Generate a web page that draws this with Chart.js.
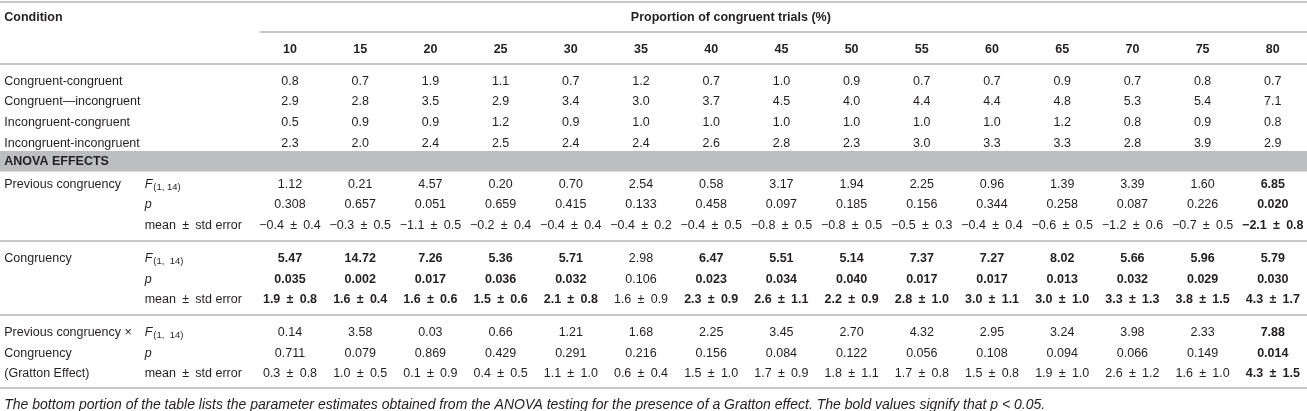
<!DOCTYPE html>
<html lang="en">
<head>
    <meta charset="UTF-8">
    <title>Gratton effect - ANOVA table</title>
    <script src="https://cdn.jsdelivr.net/npm/chart.js"></script>
    <style>
        html, body {
            margin: 0;
            padding: 0;
            background: #ffffff;
        }

        .table-wrap {
            width: 1307px;
            height: 411px;
            position: relative;
        }
    </style>
</head>
<body>
    <div class="table-wrap">
        <canvas id="tableChart"></canvas>
    </div>

    <script>
        // Column headers: proportion of congruent trials (%)
        const proportions = [10, 15, 20, 25, 30, 35, 40, 45, 50, 55, 60, 65, 70, 75, 80];

        // Top block: condition values
        const conditionNames = ['Congruent-congruent', 'Congruent\u2014incongruent', 'Incongruent-congruent', 'Incongruent-incongruent'];
        const congCong     = [0.8, 0.7, 1.9, 1.1, 0.7, 1.2, 0.7, 1.0, 0.9, 0.7, 0.7, 0.9, 0.7, 0.8, 0.7];
        const congIncong   = [2.9, 2.8, 3.5, 2.9, 3.4, 3.0, 3.7, 4.5, 4.0, 4.4, 4.4, 4.8, 5.3, 5.4, 7.1];
        const incongCong   = [0.5, 0.9, 0.9, 1.2, 0.9, 1.0, 1.0, 1.0, 1.0, 1.0, 1.0, 1.2, 0.8, 0.9, 0.8];
        const incongIncong = [2.3, 2.0, 2.4, 2.5, 2.4, 2.4, 2.6, 2.8, 2.3, 3.0, 3.3, 3.3, 2.8, 3.9, 2.9];

        // ANOVA effects: previous congruency
        const prevF    = [1.12, 0.21, 4.57, 0.20, 0.70, 2.54, 0.58, 3.17, 1.94, 2.25, 0.96, 1.39, 3.39, 1.60, 6.85];
        const prevP    = [0.308, 0.657, 0.051, 0.659, 0.415, 0.133, 0.458, 0.097, 0.185, 0.156, 0.344, 0.258, 0.087, 0.226, 0.020];
        const prevMean = [-0.4, -0.3, -1.1, -0.2, -0.4, -0.4, -0.4, -0.8, -0.8, -0.5, -0.4, -0.6, -1.2, -0.7, -2.1];
        const prevSe   = [0.4, 0.5, 0.5, 0.4, 0.4, 0.2, 0.5, 0.5, 0.5, 0.3, 0.4, 0.5, 0.6, 0.5, 0.8];

        // ANOVA effects: congruency
        const congF    = [5.47, 14.72, 7.26, 5.36, 5.71, 2.98, 6.47, 5.51, 5.14, 7.37, 7.27, 8.02, 5.66, 5.96, 5.79];
        const congP    = [0.035, 0.002, 0.017, 0.036, 0.032, 0.106, 0.023, 0.034, 0.040, 0.017, 0.017, 0.013, 0.032, 0.029, 0.030];
        const congMean = [1.9, 1.6, 1.6, 1.5, 2.1, 1.6, 2.3, 2.6, 2.2, 2.8, 3.0, 3.0, 3.3, 3.8, 4.3];
        const congSe   = [0.8, 0.4, 0.6, 0.6, 0.8, 0.9, 0.9, 1.1, 0.9, 1.0, 1.1, 1.0, 1.3, 1.5, 1.7];

        // ANOVA effects: previous congruency x congruency (Gratton effect)
        const grattonF    = [0.14, 3.58, 0.03, 0.66, 1.21, 1.68, 2.25, 3.45, 2.70, 4.32, 2.95, 3.24, 3.98, 2.33, 7.88];
        const grattonP    = [0.711, 0.079, 0.869, 0.429, 0.291, 0.216, 0.156, 0.084, 0.122, 0.056, 0.108, 0.094, 0.066, 0.149, 0.014];
        const grattonMean = [0.3, 1.0, 0.1, 0.4, 1.1, 0.6, 1.5, 1.7, 1.8, 1.7, 1.5, 1.9, 2.6, 1.6, 4.3];
        const grattonSe   = [0.8, 0.5, 0.9, 0.5, 1.0, 0.4, 1.0, 0.9, 1.1, 0.8, 0.8, 1.0, 1.2, 1.0, 1.5];

        const captionText = 'The bottom portion of the table lists the parameter estimates obtained from the ANOVA testing for the presence of a Gratton effect. The bold values signify that p < 0.05.';

        // ---- layout (in scale units: one x unit = one data column, one y unit = one text row) ----
        const COL_CONDITION = -4.07;
        const COL_STAT = -2.07;
        const COL_TITLE = 6.28;
        const SUBRULE_START = -0.43;
        const FONT = '"Liberation Sans", Arial, sans-serif';
        const FONT_SIZE = 12.5;
        const CAPTION_SIZE = 14;
        const SUB_SIZE = 9.5;
        const TEXT_SHIFT = 1.5;
        const TEXT_COLOR = '#231f20';
        const RULE_COLOR = '#c8c8c8';
        const BAND_COLOR = '#bdbec0';
        const PM = '\u2002\u00b1\u2002';

        const fmt = (v, d) => (v < 0 ? '\u2212' : '') + Math.abs(v).toFixed(d);

        const cells = [];
        const rules = [];
        let bandRange = null;
        let y = 0;

        // header
        cells.push({ x: COL_CONDITION, y: y, text: 'Condition', bold: true, align: 'left' });
        cells.push({ x: COL_TITLE, y: y, text: 'Proportion of congruent trials (%)', bold: true, align: 'center' });
        rules.push({ y: y - 0.7, from: null });
        rules.push({ y: y + 0.775, from: SUBRULE_START });
        y += 1.55;
        proportions.forEach((p, i) => cells.push({ x: i, y: y, text: String(p), bold: true, align: 'center' }));
        rules.push({ y: y + 0.775, from: null });
        y += 1.55;

        // condition block
        [congCong, congIncong, incongCong, incongIncong].forEach((series, r) => {
            cells.push({ x: COL_CONDITION, y: y, text: conditionNames[r], align: 'left' });
            series.forEach((v, i) => cells.push({ x: i, y: y, text: fmt(v, 1), align: 'center' }));
            if (r < 3) y += 1;
        });

        // ANOVA band
        y += 0.9;
        bandRange = [y - 0.45, y + 0.55];
        cells.push({ x: COL_CONDITION, y: y, text: 'ANOVA EFFECTS', bold: true, align: 'left' });
        y += 1.1;

        const effects = [
            { names: ['Previous congruency'], f: prevF, p: prevP, mean: prevMean, se: prevSe, sub: '(1, 14)' },
            { names: ['Congruency'], f: congF, p: congP, mean: congMean, se: congSe, sub: '(1,  14)' },
            { names: ['Previous congruency \u00d7', 'Congruency', '(Gratton Effect)'], f: grattonF, p: grattonP, mean: grattonMean, se: grattonSe, sub: '(1,  14)' }
        ];

        effects.forEach((eff, e) => {
            const sig = eff.p.map(p => p < 0.05);
            eff.names.forEach((n, k) => cells.push({ x: COL_CONDITION, y: y + k, text: n, align: 'left' }));

            cells.push({ x: COL_STAT, y: y, text: 'F', sub: eff.sub, italic: true, align: 'left' });
            eff.f.forEach((v, i) => cells.push({ x: i, y: y, text: v.toFixed(2), bold: sig[i], align: 'center' }));
            y += 1;

            cells.push({ x: COL_STAT, y: y, text: 'p', italic: true, align: 'left' });
            eff.p.forEach((v, i) => cells.push({ x: i, y: y, text: v.toFixed(3), bold: sig[i], align: 'center' }));
            y += 1;

            cells.push({ x: COL_STAT, y: y, text: 'mean' + PM + 'std error', align: 'left' });
            eff.mean.forEach((v, i) => cells.push({ x: i, y: y, text: fmt(v, 1) + PM + fmt(eff.se[i], 1), bold: sig[i], align: 'center' }));

            const step = e < effects.length - 1 ? 1.6 : 1.5;
            rules.push({ y: y + step / 2, from: null });
            y += step;
        });

        cells.push({ x: COL_CONDITION, y: y, text: captionText, italic: true, caption: true, align: 'left' });

        // ---- drawing plugin ----
        const tablePlugin = {
            id: 'tablePlugin',
            beforeDatasetsDraw(chart) {
                const { ctx, chartArea, scales } = chart;
                ctx.save();
                // grey ANOVA band
                const top = scales.y.getPixelForValue(bandRange[0]);
                const bottom = scales.y.getPixelForValue(bandRange[1]);
                ctx.fillStyle = BAND_COLOR;
                ctx.fillRect(chartArea.left, top, chartArea.right - chartArea.left, bottom - top);
                // horizontal rules
                ctx.strokeStyle = RULE_COLOR;
                ctx.lineWidth = 2;
                rules.forEach(r => {
                    const py = Math.round(scales.y.getPixelForValue(r.y));
                    const x0 = r.from === null ? chartArea.left : scales.x.getPixelForValue(r.from);
                    ctx.beginPath();
                    ctx.moveTo(x0, py);
                    ctx.lineTo(chartArea.right, py);
                    ctx.stroke();
                });
                ctx.restore();
            },
            afterDatasetsDraw(chart) {
                const { ctx } = chart;
                const meta = chart.getDatasetMeta(0);
                const data = chart.data.datasets[0].data;
                ctx.save();
                ctx.fillStyle = TEXT_COLOR;
                ctx.textBaseline = 'middle';
                meta.data.forEach((pt, i) => {
                    const c = data[i];
                    const size = c.caption ? CAPTION_SIZE : FONT_SIZE;
                    ctx.font = (c.italic ? 'italic ' : '') + (c.bold ? 'bold ' : '') + size + 'px ' + FONT;
                    ctx.textAlign = c.align;
                    const ty = pt.y + TEXT_SHIFT;
                    ctx.fillText(c.text, pt.x, ty);
                    if (c.sub) {
                        const w = ctx.measureText(c.text).width;
                        ctx.font = SUB_SIZE + 'px ' + FONT;
                        ctx.textAlign = 'left';
                        ctx.fillText(c.sub, pt.x + w + 1, ty + 3);
                    }
                });
                ctx.restore();
            }
        };

        new Chart(document.getElementById('tableChart'), {
            type: 'scatter',
            data: {
                datasets: [{
                    data: cells,
                    pointRadius: 0,
                    pointHoverRadius: 0
                }]
            },
            options: {
                responsive: true,
                maintainAspectRatio: false,
                animation: false,
                events: [],
                layout: { padding: 0 },
                plugins: {
                    legend: { display: false },
                    tooltip: { enabled: false }
                },
                scales: {
                    x: { type: 'linear', min: -4.131, max: 14.487, display: false },
                    y: { type: 'linear', reverse: true, min: -0.777, max: 19.17, display: false }
                }
            },
            plugins: [tablePlugin]
        });
    </script>
</body>
</html>
